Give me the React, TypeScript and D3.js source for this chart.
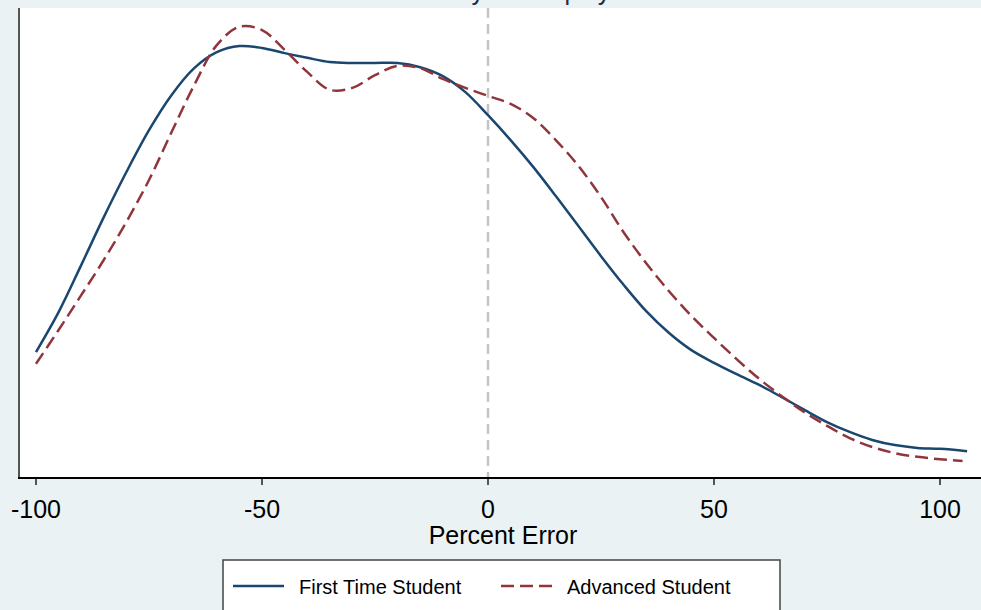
import React, { useEffect, useRef } from "react";
import * as d3 from "d3";

// percent error grid (x) and kernel density estimates (in 1e-3 units)
const errGrid = [-100, -95, -90, -85, -80, -75, -70, -65, -60, -55, -50, -45, -40, -35, -30, -25, -20, -15, -10, -5, 0, 5, 10, 15, 20, 25, 30, 35, 40, 45, 50, 55, 60, 65, 70, 75, 80, 85, 90, 95, 100, 106];
const firstTime = [2.68, 3.53, 4.53, 5.55, 6.51, 7.4, 8.15, 8.72, 9.06, 9.19, 9.15, 9.04, 8.94, 8.85, 8.83, 8.83, 8.83, 8.74, 8.55, 8.21, 7.72, 7.19, 6.62, 6.0, 5.36, 4.72, 4.11, 3.55, 3.09, 2.72, 2.45, 2.21, 1.98, 1.72, 1.45, 1.19, 0.98, 0.81, 0.7, 0.64, 0.62, 0.57];
const advGrid = [-100, -95, -90, -85, -80, -75, -70, -65, -60, -55, -50, -45, -40, -35, -30, -25, -20, -15, -10, -5, 0, 5, 10, 15, 20, 25, 30, 35, 40, 45, 50, 55, 60, 65, 70, 75, 80, 85, 90, 95, 100, 105];
const advanced = [2.43, 3.15, 3.89, 4.64, 5.45, 6.34, 7.36, 8.36, 9.21, 9.6, 9.53, 9.11, 8.64, 8.26, 8.3, 8.57, 8.77, 8.72, 8.49, 8.3, 8.13, 7.96, 7.66, 7.19, 6.64, 5.98, 5.23, 4.57, 3.98, 3.45, 2.98, 2.53, 2.11, 1.74, 1.4, 1.11, 0.85, 0.66, 0.53, 0.45, 0.4, 0.36];
const xTicks = [-100, -50, 0, 50, 100];
const legendLabels = ["First Time Student", "Advanced Student"];

const W = 981, H = 610;
const font = "'Liberation Sans', Arial, Helvetica, sans-serif";

export default function App() {
  const ref = useRef<SVGSVGElement>(null);

  useEffect(() => {
    document.body.style.margin = "0";
    const svg = d3.select(ref.current);
    svg.selectAll("*").remove();

    const left = 19, top = 8, bottom = 478;
    const x = d3.scaleLinear().domain([-100, 100]).range([36, 940]);
    const y = d3.scaleLinear().domain([0, 10]).range([bottom, bottom - 470]);

    svg.append("rect").attr("width", W).attr("height", H).attr("fill", "#eaf2f3");

    // title (cut off at the top, only descenders show)
    svg.append("text")
      .attr("x", 470).attr("y", 0)
      .attr("text-anchor", "middle")
      .style("font-family", font).style("font-size", "25px")
      .attr("fill", "#1a2a55")
      .text("Percent Error by Times played");

    svg.append("rect")
      .attr("x", left).attr("y", top)
      .attr("width", W - left).attr("height", bottom - top)
      .attr("fill", "white");

    // reference line at 0
    svg.append("line")
      .attr("x1", x(0)).attr("x2", x(0))
      .attr("y1", top).attr("y2", bottom)
      .attr("stroke", "#c4c4c4").attr("stroke-width", 2.5)
      .attr("stroke-dasharray", "10 6");

    const line = d3.line<[number, number]>()
      .x((d) => x(d[0]))
      .y((d) => y(d[1]))
      .curve(d3.curveCatmullRom);

    svg.append("path")
      .datum(errGrid.map((e, i) => [e, firstTime[i]] as [number, number]))
      .attr("d", line)
      .attr("fill", "none")
      .attr("stroke", "#1a476f").attr("stroke-width", 2.5);

    svg.append("path")
      .datum(advGrid.map((e, i) => [e, advanced[i]] as [number, number]))
      .attr("d", line)
      .attr("fill", "none")
      .attr("stroke", "#90353b").attr("stroke-width", 2.5)
      .attr("stroke-dasharray", "13 6");

    // axes lines
    svg.append("line")
      .attr("x1", left).attr("x2", left)
      .attr("y1", top).attr("y2", bottom)
      .attr("stroke", "#555").attr("stroke-width", 2);
    svg.append("line")
      .attr("x1", left - 1).attr("x2", W)
      .attr("y1", bottom).attr("y2", bottom)
      .attr("stroke", "#000").attr("stroke-width", 2);

    const ticks = svg.append("g");
    ticks.selectAll("line")
      .data(xTicks)
      .join("line")
      .attr("x1", (d) => x(d)).attr("x2", (d) => x(d))
      .attr("y1", bottom + 1).attr("y2", bottom + 7)
      .attr("stroke", "#555").attr("stroke-width", 2);
    ticks.selectAll("text")
      .data(xTicks)
      .join("text")
      .attr("x", (d) => x(d)).attr("y", 518)
      .attr("text-anchor", "middle")
      .style("font-family", font).style("font-size", "25px")
      .attr("fill", "#000")
      .text((d) => String(d));

    svg.append("text")
      .attr("x", x(0) + 15).attr("y", 544)
      .attr("text-anchor", "middle")
      .style("font-family", font).style("font-size", "25px")
      .attr("fill", "#000")
      .text("Percent Error");

    // legend
    const lg = svg.append("g");
    lg.append("rect")
      .attr("x", 223).attr("y", 560)
      .attr("width", 557).attr("height", 70)
      .attr("fill", "white")
      .attr("stroke", "#444").attr("stroke-width", 1.5);
    const items = [
      { label: legendLabels[0], color: "#1a476f", dash: null, x0: 233, tx: 299 },
      { label: legendLabels[1], color: "#90353b", dash: "13 6", x0: 501, tx: 567 },
    ];
    items.forEach((it) => {
      lg.append("line")
        .attr("x1", it.x0).attr("x2", it.x0 + 51)
        .attr("y1", 586).attr("y2", 586)
        .attr("stroke", it.color).attr("stroke-width", 2.5)
        .attr("stroke-dasharray", it.dash);
      lg.append("text")
        .attr("x", it.tx).attr("y", 594)
        .style("font-family", font).style("font-size", "20px")
        .attr("fill", "#000")
        .text(it.label);
    });
  }, []);

  return <svg ref={ref} width={W} height={H} style={{ display: "block" }}></svg>;
}
